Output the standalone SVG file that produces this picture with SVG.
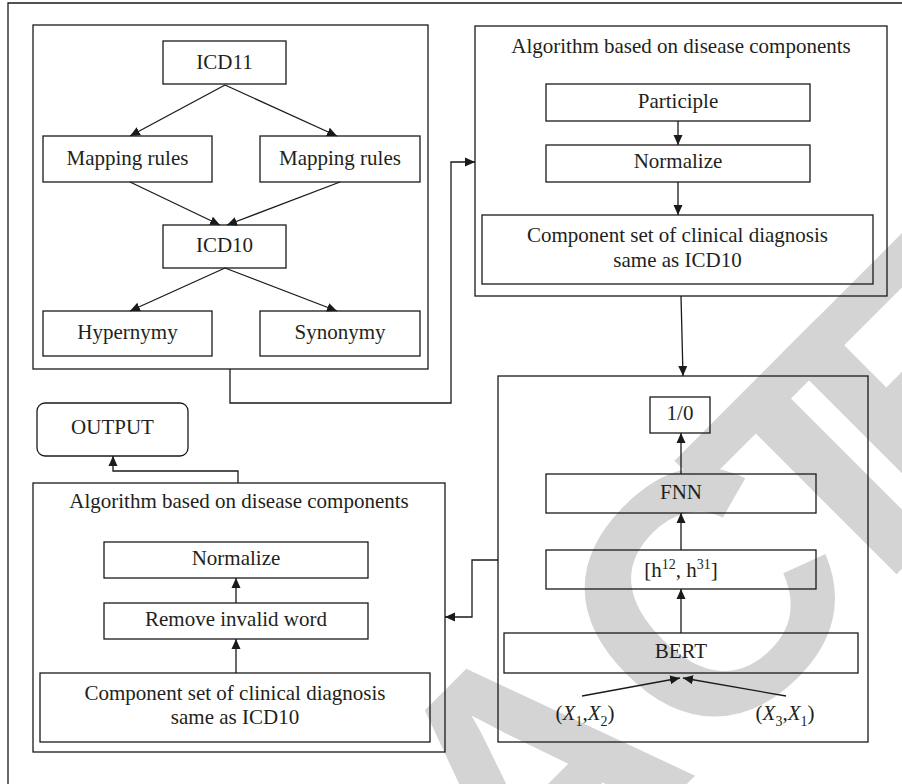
<svg xmlns="http://www.w3.org/2000/svg" width="902" height="784" viewBox="0 0 902 784">
<style>
.b{fill:none;stroke:#1a1a1a;stroke-width:1.3}
.c{fill:none;stroke:#1a1a1a;stroke-width:1.3}
.t{font-family:"Liberation Serif","Times New Roman",serif;font-size:21px;fill:#231f20;text-anchor:middle}
.wm{font-family:"Liberation Sans",Arial,sans-serif;font-size:345px;font-weight:bold;fill:#d4d4d4}
</style>
<defs>
<marker id="ah" markerWidth="10" markerHeight="10" refX="10" refY="5" orient="auto" markerUnits="userSpaceOnUse">
<path d="M0,0.5 L10,5 L0,9.5 z" fill="#1a1a1a"/>
</marker>
</defs>
<rect width="902" height="784" fill="#ffffff"/>
<g id="watermark" transform="rotate(-45)"><text class="wm" x="-297" y="1040">AC<tspan dx="-54">T</tspan><tspan dx="-78">E</tspan></text></g>
<path class="b" d="M8,784 V3 H902"/>

<g id="boxA">
<rect class="b" x="33" y="25" width="395" height="344"/>
</g>
<g id="icd11"><rect class="b" x="163" y="41" width="123" height="43"/><text class="t" x="224.5" y="69">ICD11</text></g>
<g id="maprulesL"><rect class="b" x="43" y="136" width="169" height="46"/><text class="t" x="127.5" y="165">Mapping rules</text></g>
<g id="maprulesR"><rect class="b" x="260" y="136" width="160" height="46"/><text class="t" x="340" y="165">Mapping rules</text></g>
<g id="icd10"><rect class="b" x="163" y="225" width="123" height="43"/><text class="t" x="224.5" y="252">ICD10</text></g>
<g id="hypernymy"><rect class="b" x="43" y="311" width="169" height="45"/><text class="t" x="127.5" y="339">Hypernymy</text></g>
<g id="synonymy"><rect class="b" x="260" y="311" width="160" height="45"/><text class="t" x="340" y="339">Synonymy</text></g>

<g id="boxB">
<rect class="b" x="475" y="26" width="412" height="270"/>
<text class="t" x="681" y="53">Algorithm based on disease components</text>
</g>
<g id="participle"><rect class="b" x="546" y="84" width="264" height="37"/><text class="t" x="678" y="108">Participle</text></g>
<g id="normalizeB"><rect class="b" x="546" y="145" width="264" height="37"/><text class="t" x="678" y="168">Normalize</text></g>
<g id="componentB"><rect class="b" x="482" y="215" width="391" height="69"/><text class="t" x="677.5" y="242">Component set of clinical diagnosis</text><text class="t" x="677.5" y="267">same as ICD10</text></g>

<g id="boxC">
<rect class="b" x="498" y="376" width="370" height="366"/>
</g>
<g id="out10"><rect class="b" x="650" y="397" width="60" height="36"/><text class="t" x="680" y="420">1/0</text></g>
<g id="fnn"><rect class="b" x="546" y="474" width="270" height="39"/><text class="t" x="681" y="499">FNN</text></g>
<g id="hvec"><rect class="b" x="546" y="550" width="270" height="39"/><text class="t" x="681" y="577">[h<tspan font-size="14" dy="-8">12</tspan><tspan dy="8">, h</tspan><tspan font-size="14" dy="-8">31</tspan><tspan dy="8">]</tspan></text></g>
<g id="bert"><rect class="b" x="504" y="633" width="354" height="40"/><text class="t" x="681" y="658">BERT</text></g>
<g id="x12"><text class="t" x="585" y="720">(<tspan font-style="italic">X</tspan><tspan font-size="14" dy="6">1</tspan><tspan dy="-6">,</tspan><tspan font-style="italic">X</tspan><tspan font-size="14" dy="6">2</tspan><tspan dy="-6">)</tspan></text></g>
<g id="x31"><text class="t" x="785" y="720">(<tspan font-style="italic">X</tspan><tspan font-size="14" dy="6">3</tspan><tspan dy="-6">,</tspan><tspan font-style="italic">X</tspan><tspan font-size="14" dy="6">1</tspan><tspan dy="-6">)</tspan></text></g>

<g id="output"><rect class="b" x="37" y="403" width="151" height="53" rx="8" ry="8"/><text class="t" x="112.5" y="434">OUTPUT</text></g>

<g id="boxD">
<rect class="b" x="33" y="483" width="412" height="269"/>
<text class="t" x="239" y="508">Algorithm based on disease components</text>
</g>
<g id="normalizeD"><rect class="b" x="104" y="542" width="264" height="36"/><text class="t" x="236" y="565">Normalize</text></g>
<g id="remove"><rect class="b" x="104" y="603" width="264" height="36"/><text class="t" x="236" y="626">Remove invalid word</text></g>
<g id="componentD"><rect class="b" x="40" y="673" width="390" height="69"/><text class="t" x="235" y="700">Component set of clinical diagnosis</text><text class="t" x="235" y="724">same as ICD10</text></g>

<g id="connectors" class="c" marker-end="url(#ah)">
<path d="M225,85 L130,136"/>
<path d="M225,85 L337,136"/>
<path d="M130,182 L220,225"/>
<path d="M340,182 L227,225"/>
<path d="M225,268 L130,311"/>
<path d="M225,268 L337,311"/>
<path d="M230,369 V403 H451 V162 H475"/>
<path d="M678,121 V145"/>
<path d="M678,182 V215"/>
<path d="M681,296 L683,376"/>
<path d="M681,474 V433"/>
<path d="M681,550 V513"/>
<path d="M681,633 V589"/>
<path d="M582,696 L680,678"/>
<path d="M786,696 L683,678"/>
<path d="M498,560 H472 V617 H445"/>
<path d="M236,603 V578"/>
<path d="M236,673 V639"/>
<path d="M238,483 V471 H113 V456"/>
</g>
</svg>
